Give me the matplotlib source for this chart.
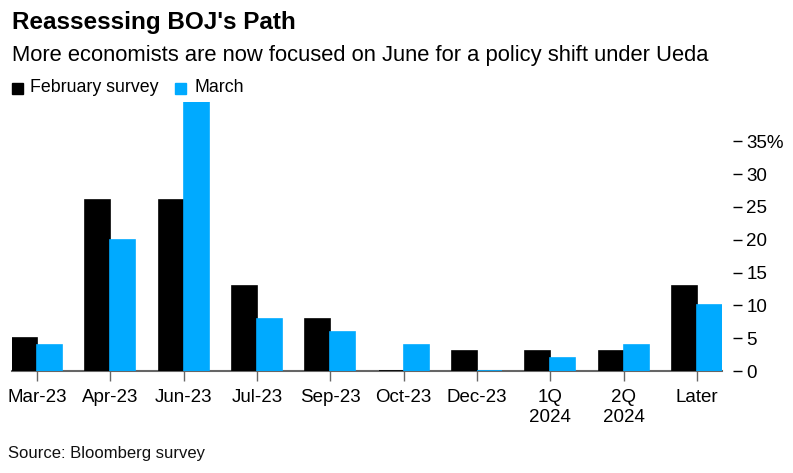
import matplotlib.pyplot as plt
import numpy as np

plt.rcParams['font.family'] = ['Liberation Sans', 'DejaVu Sans']

# survey share (%) for each expected timing of the BOJ policy shift
categories = ["Mar-23", "Apr-23", "Jun-23", "Jul-23", "Sep-23", "Oct-23",
              "Dec-23", "1Q\n2024", "2Q\n2024", "Later"]
february = [5, 26, 26, 13, 8, 0, 3, 3, 3, 13]
march = [4, 20, 41, 8, 6, 4, 0, 2, 4, 10]
y_ticks = [0, 5, 10, 15, 20, 25, 30, 35]
y_labels = ["0", "5", "10", "15", "20", "25", "30", "35%"]

black = "#000000"
cyan = "#00aaff"

fig = plt.figure(figsize=(7.93, 4.73), dpi=100)
ax = fig.add_axes([12 / 793, (473 - 371) / 473, 710 / 793, 269 / 473])

x = np.arange(len(categories))
w = 0.34
ax.bar(x - w / 2, february, width=w, color=black, edgecolor=black,
       linewidth=1.2, zorder=3)
ax.bar(x + w / 2, march, width=w, color=cyan, edgecolor=cyan,
       linewidth=1.2, zorder=3)

ax.set_xlim(-2 * w / 2, len(categories) - 1 + 2 * w / 2)
ax.set_ylim(0, 41)

for s in ["top", "left", "right"]:
    ax.spines[s].set_visible(False)
ax.spines["bottom"].set_color("#666666")
ax.spines["bottom"].set_linewidth(1.5)

ax.set_xticks(x)
ax.set_xticklabels(categories, fontsize=13.5, linespacing=1.2)
ax.tick_params(axis="x", length=7, width=1, color="#666666", pad=6)

ax.yaxis.tick_right()
ax.spines["right"].set_position(("outward", 8))
ax.set_yticks(y_ticks)
ax.set_yticklabels(y_labels, fontsize=13.5)
ax.tick_params(axis="y", length=6.5, width=1, color=black, pad=3)

fig.text(12 / 793, 1 - 22 / 473, "Reassessing BOJ's Path", fontsize=17.5,
         fontweight="bold", va="center", ha="left")
fig.text(12 / 793, 1 - 55 / 473,
         "More economists are now focused on June for a policy shift under Ueda",
         fontsize=15.8, va="center", ha="left")

# legend
fig.patches.append(plt.Rectangle((12 / 793, 1 - 94 / 473), 11 / 793, 11 / 473,
                                 transform=fig.transFigure, color=black))
fig.text(30 / 793, 1 - 88 / 473, "February survey", fontsize=12.8, va="center")
fig.patches.append(plt.Rectangle((175 / 793, 1 - 94 / 473), 11 / 793, 11 / 473,
                                 transform=fig.transFigure, color=cyan))
fig.text(194 / 793, 1 - 88 / 473, "March", fontsize=12.8, va="center")

fig.text(8 / 793, 1 - 453 / 473, "Source: Bloomberg survey", fontsize=12,
         va="center", ha="left", color="#111111")

fig.savefig("out.png", dpi=100)
